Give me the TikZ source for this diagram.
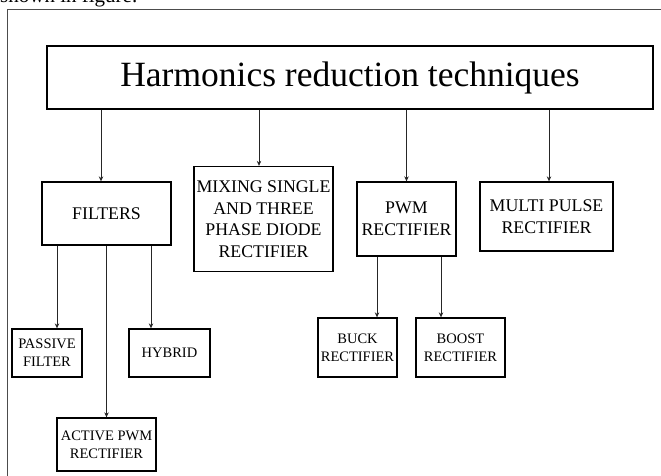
\documentclass[tikz,border=0pt]{standalone}
\usepackage{fontspec}
\setmainfont{Liberation Serif}
\usetikzlibrary{arrows.meta}
\begin{document}
\begin{tikzpicture}[x=1pt,y=-1pt,
  box/.style={draw=black,line width=1.3pt,inner sep=0pt,align=center,
    font=\fontsize{17.8}{21.5}\selectfont},
  smallbox/.style={box,font=\fontsize{14.5}{18}\selectfont},
  arr/.style={draw=black!85,line width=0.9pt,-{Stealth[length=5pt,width=4.5pt]}},
  frame/.style={draw=black!70,line width=1pt}]
\useasboundingbox (0,0) rectangle (661,476);
% cut-off text of the page above the figure
\node[anchor=base west,inner sep=0pt,font=\fontsize{21}{24}\selectfont] (cap) at (0,2.5) {shown in figure.};
% outer frame (left and top edges visible)
\coordinate (fa) at (7,476);
\coordinate (fb) at (7,10);
\coordinate (fc) at (661,10);
\draw[frame] (fa) -- (fb) -- (fc);
% boxes
\node[box,minimum width=606pt,minimum height=63pt,font=\fontsize{35.5}{40}\selectfont] (title) at (350,77.5) {Harmonics reduction techniques};
\node[box,minimum width=129pt,minimum height=63pt] (filters) at (106.5,213.5) {FILTERS};
\node[box,minimum width=139pt,minimum height=105pt] (mixing) at (263.5,219) {MIXING SINGLE\\AND THREE\\PHASE DIODE\\RECTIFIER};
\node[box,minimum width=99pt,minimum height=74pt] (pwm) at (406.5,219) {PWM\\RECTIFIER};
\node[box,minimum width=133pt,minimum height=69pt] (multi) at (546.5,216.5) {MULTI PULSE\\RECTIFIER};
\node[smallbox,minimum width=70pt,minimum height=48pt] (passive) at (47,353) {PASSIVE\\FILTER};
\node[smallbox,minimum width=81pt,minimum height=48pt] (hybrid) at (169.5,353) {HYBRID};
\node[smallbox,minimum width=99pt,minimum height=53pt] (active) at (106.5,444.5) {ACTIVE PWM\\RECTIFIER};
\node[smallbox,minimum width=79pt,minimum height=59pt] (buck) at (357.5,347.5) {BUCK\\RECTIFIER};
\node[smallbox,minimum width=89pt,minimum height=59pt] (boost) at (460.5,347.5) {BOOST\\RECTIFIER};
% connectors from title
\draw[arr] ([xshift=-5.5pt]filters.north |- title.south) -- ([xshift=-5.5pt]filters.north);
\draw[arr] ([xshift=-4.5pt]mixing.north |- title.south) -- ([xshift=-4.5pt]mixing.north);
\draw[arr] (pwm.north |- title.south) -- (pwm.north);
\draw[arr] ([xshift=2.5pt]multi.north |- title.south) -- ([xshift=2.5pt]multi.north);
% connectors from filters
\draw[arr] ([xshift=10pt]passive.north |- filters.south) -- ([xshift=10pt]passive.north);
\draw[arr] (active.north |- filters.south) -- (active.north);
\draw[arr] ([xshift=-18.5pt]hybrid.north |- filters.south) -- ([xshift=-18.5pt]hybrid.north);
% connectors from pwm
\draw[arr] ([xshift=19.5pt]buck.north |- pwm.south) -- ([xshift=19.5pt]buck.north);
\draw[arr] ([xshift=-19.5pt]boost.north |- pwm.south) -- ([xshift=-19.5pt]boost.north);
\end{tikzpicture}
\end{document}
